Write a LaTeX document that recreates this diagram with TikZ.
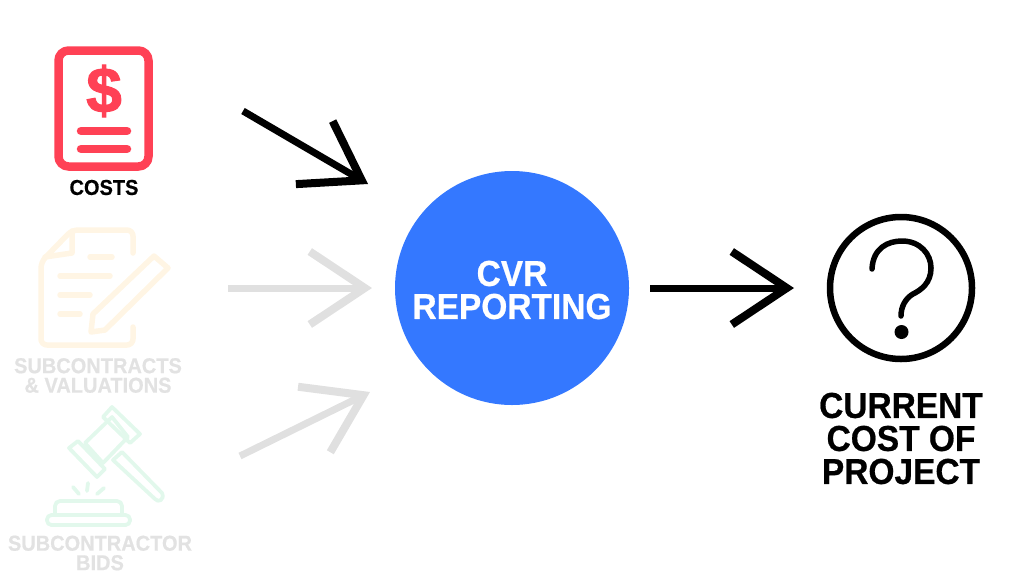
\documentclass[tikz,border=0pt]{standalone}
\usepackage{fontspec}
\setmainfont{Liberation Sans}
\newfontfamily\rb[FakeStretch=0.93,FakeBold=0.6]{Liberation Sans}
\newfontfamily\dl[FakeBold=1.6]{Liberation Sans}
\usetikzlibrary{arrows.meta}
\definecolor{cvrblue}{HTML}{3478FF}
\definecolor{costred}{HTML}{FF4155}
\definecolor{subc}{HTML}{FFF5E4}
\definecolor{bidc}{HTML}{E2F8EC}
\definecolor{fadeg}{HTML}{E0E0E0}
\definecolor{fadetxt}{HTML}{E2E2E2}
\tikzset{
  x=1pt,y=-1pt,
  conn/.style={line width=7pt,-{Straight Barb[length=55pt,width=73pt,line width=8pt,sharp]}},
  fadeconn/.style={conn,draw=fadeg},
  lab/.style={font=\rb\bfseries,align=center,inner sep=0pt},
  redline/.style={draw=costred,line width=8.5pt,line cap=round,line join=round},
  subline/.style={draw=subc,line width=5.5pt,line cap=round,line join=round},
  bidline/.style={draw=bidc,line width=3.8pt,line cap=round,line join=round},
}
\begin{document}
\begin{tikzpicture}
\useasboundingbox (0,0) rectangle (1024,576);
% named ends of the connectors
\coordinate (a1s) at (243,111); \coordinate (a1e) at (368,184);
\coordinate (a2s) at (228,288); \coordinate (a2e) at (372,288);
\coordinate (a3s) at (240,456); \coordinate (a3e) at (370,392);
\coordinate (a4s) at (650,288); \coordinate (a4e) at (794,288);
% central circle
\node[circle,fill=cvrblue,minimum size=234pt,inner sep=0pt] (cvr) at (512,288) {};
\node[lab,text=white,font=\fontsize{36}{33}\rb\bfseries] (cvrt) at (512,290) {CVR\\REPORTING};
% question circle
\node[circle,draw=black,line width=6.5pt,minimum size=142pt,inner sep=0pt] (q) at (901,288) {};
\draw[line width=5.5pt,line cap=round] (872,269) .. controls (873,248) and (888,241) .. (902,241)
  .. controls (920,241) and (931,254) .. (931,268)
  .. controls (931,283) and (921,290) .. (913,294)
  .. controls (906,298) and (901,306) .. (901,316);
\fill (901.5,332) circle (7pt);
\node[lab,font=\fontsize{36}{33}\rb\bfseries] (qt) at (901,438.5) {CURRENT\\COST OF\\PROJECT};
% costs icon
\draw[redline,rounded corners=10pt] (58.5,50.5) rectangle (148.5,166.5);
\draw[redline] (81,131) -- (127,131);
\draw[redline] (81,149) -- (127,149);
\node[inner sep=0pt,text=costred,font=\fontsize{64}{64}\dl\bfseries] (dollar) at (104,91) {\$};
\node[lab,font=\fontsize{21.5}{20}\rb\bfseries] (costs) at (104,187.5) {COSTS};
% subcontract icon
\draw[subline,rounded corners=6pt] (133,253) -- (133,230) -- (72,230) -- (41,262) -- (41,345) -- (133,345) -- (133,327);
\draw[subline] (72,231) -- (72,253) -- (45,257);
\draw[subline] (90,257) -- (112,257);
\draw[subline] (60,276) -- (110,276);
\draw[subline] (60,295) -- (90,295);
\draw[subline] (60,314) -- (80,314);
\draw[subline] (154,256) -- (168,268) -- (105,330) -- (91,332) -- (93,314) -- cycle;
\node[lab,text=fadetxt,font=\fontsize{21.5}{19.5}\rb\bfseries] (subt) at (98,375.5) {SUBCONTRACTS\\\& VALUATIONS};
% gavel icon
\draw[bidline] (85,443) -- (112,417) -- (128,437) -- (103,463) -- cycle;
\draw[bidline] (69,448) -- (78,441) -- (105,469) -- (97,477) -- cycle;
\draw[bidline] (103,417) -- (112,407) -- (140,434) -- (130,443) -- cycle;
\draw[bidline] (113,460) -- (122,452) -- (162,493) .. controls (165,500) and (158,503) .. (155,499) -- cycle;
\draw[bidline] (73,487) -- (79,494);
\draw[bidline] (88,483) -- (87,491);
\draw[bidline] (104,488) -- (97,494);
\draw[bidline,rounded corners=5pt] (55,513) -- (55,501) -- (122,501) -- (122,513);
\draw[bidline,rounded corners=4.5pt] (47,515) rectangle (130,525);
\node[lab,text=fadetxt,font=\fontsize{21.5}{19.5}\rb\bfseries] (bidt) at (100,553) {SUBCONTRACTOR\\BIDS};
% connectors
\draw[conn] (a1s) -- (a1e);
\draw[fadeconn] (a2s) -- (a2e);
\draw[fadeconn] (a3s) -- (a3e);
\draw[conn] (a4s) -- (a4e);
\end{tikzpicture}
\end{document}
